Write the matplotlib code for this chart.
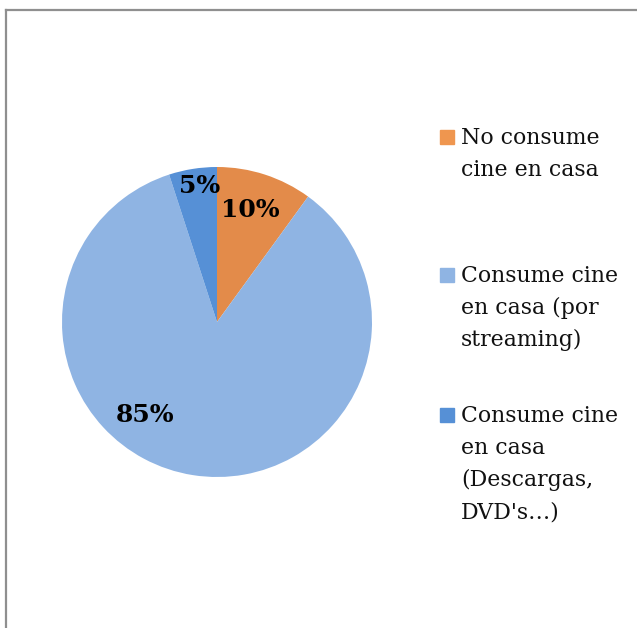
import matplotlib.pyplot as plt
from matplotlib.lines import Line2D
from matplotlib.patches import Rectangle

labels = ['No consume\ncine en casa',
          'Consume cine\nen casa (por\nstreaming)',
          "Consume cine\nen casa\n(Descargas,\nDVD's\u2026)"]
values = [10, 85, 5]
colors = ['#E38B4A', '#8FB4E3', '#5690D6']
legend_colors = ['#EF964F', '#8FB4E3', '#5690D6']

# label spots inside the pie (axes units, radius 1)
label_pos = [(0.213, 0.72), (-0.465, -0.60), (-0.115, 0.88)]

W, H = 637, 628
fig = plt.figure(figsize=(W / 100, H / 100), dpi=100)
fig.patch.set_facecolor('white')

cx, cy, r = 217, 322, 155
ax = fig.add_axes([(cx - r) / W, 1 - (cy + r) / H, 2 * r / W, 2 * r / H])
wedges, texts, autotexts = ax.pie(values, colors=colors, startangle=90,
                                  counterclock=False, radius=1,
                                  autopct='%1.0f%%',
                                  wedgeprops=dict(linewidth=0))
for t, pos in zip(autotexts, label_pos):
    t.set_position(pos)
    t.set_fontfamily('DejaVu Serif')
    t.set_fontweight('bold')
    t.set_fontsize(18)
    t.set_color('black')
    t.set_ha('center')
    t.set_va('center')
ax.set_xlim(-1, 1)
ax.set_ylim(-1, 1)
ax.set_aspect('equal')
ax.axis('off')

# legend drawn by hand to get the Excel look
tops = [137, 275, 415]
for lab, col, ty in zip(labels, legend_colors, tops):
    fig.patches.append(Rectangle((440 / W, 1 - (ty + 7) / H), 14 / W, 14 / H,
                                 transform=fig.transFigure, color=col))
    fig.text(461 / W, 1 - (ty - 10) / H, lab, ha='left', va='top',
             fontfamily='DejaVu Serif', fontsize=15.8, linespacing=1.59,
             color='#111111')

# frame (only top and left edge are visible in the crop)
fig.lines.append(Line2D([6 / W, 1], [1 - 10 / H, 1 - 10 / H],
                        transform=fig.transFigure, color='#8f8f8f', lw=1.6))
fig.lines.append(Line2D([6 / W, 6 / W], [0, 1 - 10 / H],
                        transform=fig.transFigure, color='#8f8f8f', lw=1.6))

fig.savefig('out.png', dpi=100)
